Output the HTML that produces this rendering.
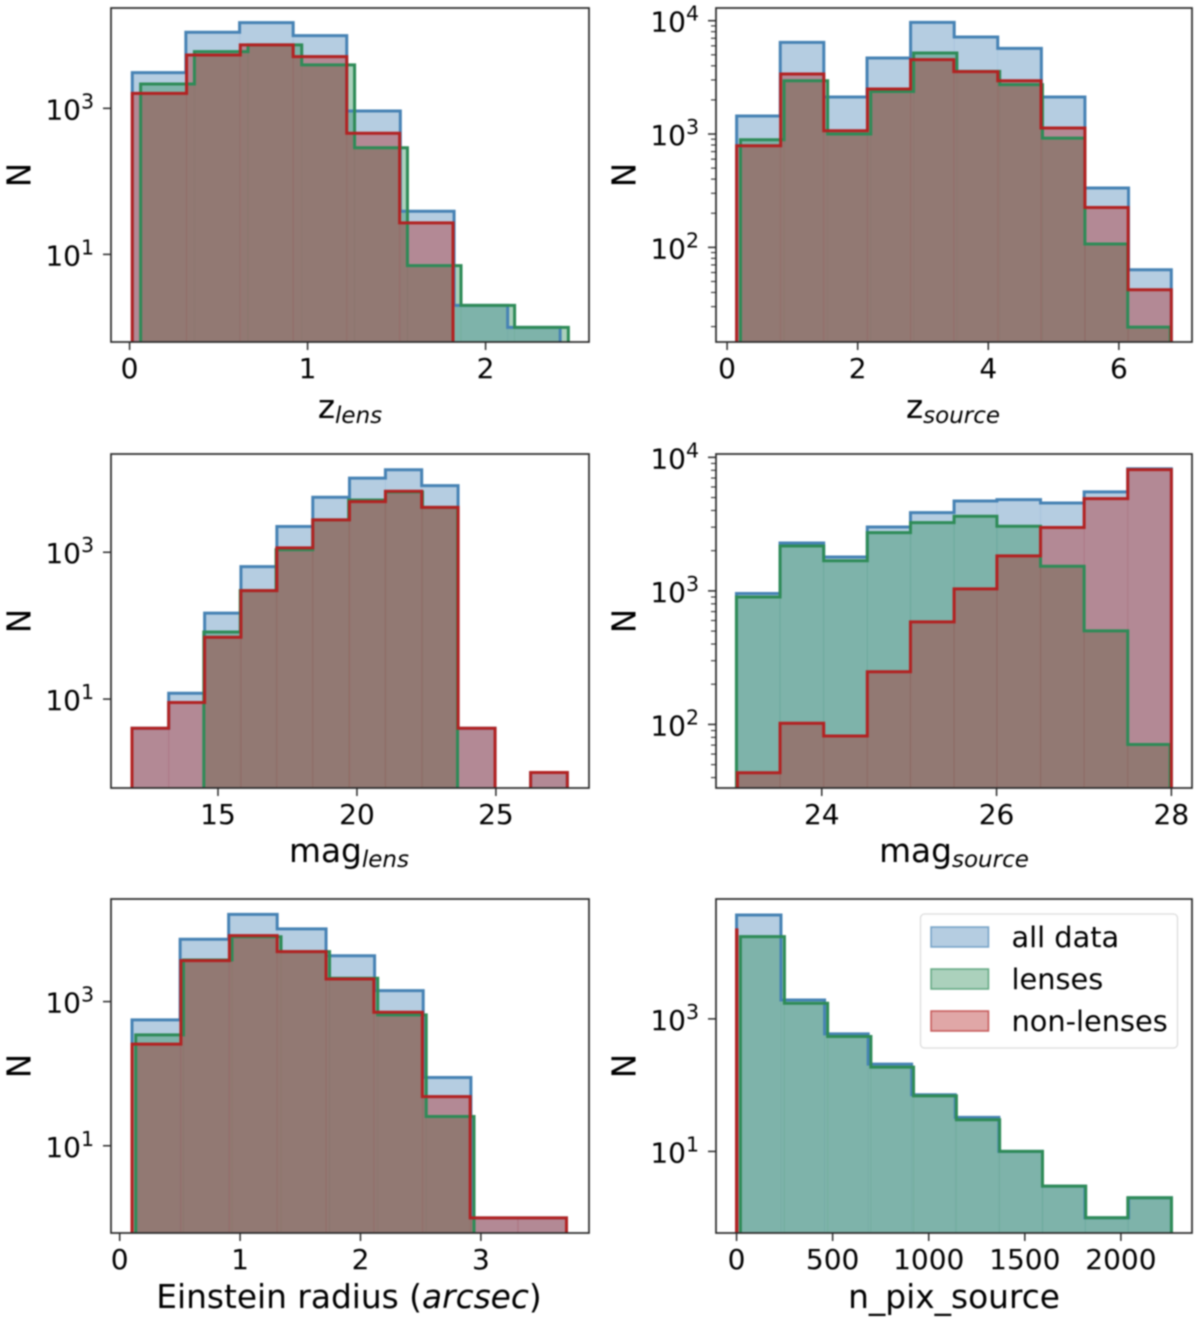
<!DOCTYPE html>
<html lang="en">
<head>
<meta charset="utf-8">
<title>Histograms of lens simulation parameters</title>
<style>
html,body{margin:0;padding:0;background:#fff;}
body{width:1200px;height:1323px;overflow:hidden;}
#figure{display:block;filter:blur(0.7px);}
text{font-family:"DejaVu Sans","Liberation Sans",sans-serif;fill:#000;}
</style>
</head>
<body>
<svg id="figure" xmlns="http://www.w3.org/2000/svg" width="1200" height="1323" viewBox="0 0 1200 1323"></svg>
<script>
// z_lens
const zlensEdgesAll = [0.015,0.316,0.618,0.919,1.22,1.521,1.823,2.124,2.419];
const zlensCountsAll = [3085,11000,14900,9900,920,39,2,1];
const zlensEdgesLenses = [0.062,0.364,0.665,0.967,1.264,1.561,1.862,2.163,2.465];
const zlensCountsLenses = [2155,5970,7400,3930,289,7,2,1];
const zlensEdgesNon = [0.015,0.32,0.622,0.919,1.22,1.517,1.817];
const zlensCountsNon = [1600,5380,7400,5100,455,27];
const zlensXTicks = [0,1,2];
const zlensYExponents = [1,3];

// z_source
const zsourceEdgesAll = [0.146,0.814,1.481,2.143,2.81,3.478,4.145,4.813,5.48,6.148,6.803];
const zsourceCountsAll = [1443,6440,2120,4690,9660,7180,5700,2120,334,63.5];
const zsourceEdgesLenses = [0.205,0.872,1.54,2.2,2.857,3.519,4.175,4.83,5.48,6.136,6.786];
const zsourceCountsLenses = [891,2955,1000,2375,5190,3575,2725,920,107,19.8];
const zsourceEdgesNon = [0.146,0.82,1.481,2.149,2.81,3.472,4.145,4.807,5.48,6.142,6.803];
const zsourceCountsNon = [788,3385,1070,2495,4530,3550,2955,1130,225,42.3];
const zsourceXTicks = [0,2,4,6];
const zsourceYExponents = [2,3,4];

// mag_lens
const maglensEdgesAll = [11.905,13.226,14.519,15.825,17.118,18.411,19.732,21.025,22.33,23.64,24.97,26.25,27.57];
const maglensCountsAll = [4,12,148,638,2240,5620,10200,13300,8070,4,0,1];
const maglensEdgesLenses = [14.49,15.8,17.09,18.41,19.7,21.03,22.36,23.62];
const maglensCountsLenses = [82,300,1080,2756,5150,6620,4090];
const maglensEdgesNon = [11.905,13.226,14.519,15.825,17.118,18.411,19.732,21.025,22.33,23.64,24.97,26.25,27.57];
const maglensCountsNon = [4,9,69.6,300,1145,2756,4890,6760,4090,4,0,1];
const maglensXTicks = [15,20,25];
const maglensYExponents = [1,3];

// mag_source
const magsourceEdgesAll = [23.024,23.523,24.022,24.521,25.015,25.514,26.004,26.503,27.002,27.501,28];
const magsourceCountsAll = [955,2285,1795,3010,3855,4710,4820,4550,5510,8220];
const magsourceEdgesLenses = [23.024,23.523,24.022,24.521,25.015,25.514,26.004,26.503,27.002,27.501,27.985];
const magsourceCountsLenses = [900,2170,1680,2730,3245,3620,3045,1530,502,70.8];
const magsourceEdgesNon = [23.035,23.523,24.022,24.521,25.015,25.514,26.004,26.503,27.002,27.501,28];
const magsourceCountsNon = [43.5,102,82,248,586,1035,1830,2980,4910,8090];
const magsourceXTicks = [24,26,28];
const magsourceYExponents = [2,3,4];

// Einstein radius
const einsteinEdgesAll = [0.102,0.502,0.905,1.308,1.714,2.117,2.521,2.917,3.308,3.711];
const einsteinCountsAll = [557,7310,16200,10200,4330,1420,88.5,1,1];
const einsteinEdgesLenses = [0.133,0.53,0.933,1.34,1.743,2.143,2.546,2.943];
const einsteinCountsLenses = [345,3775,7940,4930,2105,653,25.5];
const einsteinEdgesNon = [0.102,0.508,0.911,1.308,1.714,2.111,2.514,2.911,3.308,3.711];
const einsteinCountsNon = [257,3700,8230,4930,2060,711,48,1,1];
const einsteinXTicks = [0,1,2,3];
const einsteinYExponents = [1,3];

// n_pix_source
const npixEdgesAll = [0,231,458,685,911,1138,1365,1592,1813,2040,2263];
const npixCountsAll = [37000,1930,595,208,71.5,32.6,10,3,1,2];
const npixEdgesLenses = [20,249,474,699,921,1144,1369,1592,1817,2036,2263];
const npixCountsLenses = [17400,1720,542,187,69,30,10,3,1,2];
const npixEdgesNon = [0,2];
const npixCountsNon = [22000];
const npixXTicks = [0,500,1000,1500,2000];
const npixYExponents = [1,3];

// Axis ranges (data units; y is log10 of the count)
const zlensXRange = [-0.1045,2.581];
const zlensYLogRange = [-0.2,4.374];
const zsourceXRange = [-0.17,7.12];
const zsourceYLogRange = [1.165,4.112];
const maglensXRange = [11.15,28.35];
const maglensYLogRange = [-0.211,4.338];
const magsourceXRange = [22.79,28.236];
const magsourceYLogRange = [1.524,4.025];
const einsteinXRange = [-0.0723,3.898];
const einsteinYLogRange = [-0.21,4.423];
const npixXRange = [-107,2370];
const npixYLogRange = [-0.231,4.809];

const legendLabels = ['all data','lenses','non-lenses'];
const minorMultipliers = [2,3,4,5,6,7,8,9];

const SVGNS = 'http://www.w3.org/2000/svg';
const figure = document.getElementById('figure');
const BLUE = '#4682b4', GREEN = '#2e8b57', RED = '#b22222';
const TICK_FONT = 28, LABEL_FONT = 32.8, SUB_FONT = 23, SUP_FONT = 20.5;

function el(tag, parent, attrs) {
  const node = document.createElementNS(SVGNS, tag);
  for (const key in attrs) node.setAttribute(key, attrs[key]);
  parent.appendChild(node);
  return node;
}

function drawFills(group, key, color, edges, counts, x, y, baseY) {
  const seriesGroup = el('g', group, {});
  
  
  counts.forEach(function (count, i) {
    if (count <= 0) return;
    const x0 = x(edges[i]), x1 = x(edges[i + 1]);
    const top = y(count);
    const bar = el('rect', seriesGroup, {
      x: x0, y: top, width: x1 - x0, height: baseY - top,
      fill: color, 'fill-opacity': 0.4, stroke: color, 'stroke-opacity': 0.07, 'stroke-width': 1
    });
    
    
  });
}

function drawOutline(group, key, color, edges, counts, x, y, baseY) {
  let outline = '';
  counts.forEach(function (count, i) {
    const x0 = x(edges[i]), x1 = x(edges[i + 1]);
    const top = count > 0 ? y(count) : baseY;
    outline += (i === 0 ? 'M' + x0 + ' ' + baseY : '') + 'L' + x0 + ' ' + top + 'L' + x1 + ' ' + top;
    if (i === counts.length - 1) outline += 'L' + x1 + ' ' + baseY;
  });
  const line = el('path', group, { d: outline, fill: 'none', stroke: color, 'stroke-width': 3, 'stroke-linejoin': 'miter' });
  
  
}

function drawPanel(p) {
  const group = el('g', figure, {});
  
  
  const left = p.left, right = p.right, top = p.top, bottom = p.bottom;
  const x = function (v) { return left + (v - p.xRange[0]) / (p.xRange[1] - p.xRange[0]) * (right - left); };
  const yLog = function (l) { return bottom - (l - p.yRange[0]) / (p.yRange[1] - p.yRange[0]) * (bottom - top); };
  const y = function (c) { return yLog(Math.log10(c)); };

  const clip = el('clipPath', group, { id: 'clip-' + p.id });
  el('rect', clip, { x: left, y: top, width: right - left, height: bottom - top });
  const plot = el('g', group, { 'clip-path': 'url(#clip-' + p.id + ')' });
  
  
  const base = bottom + 2;
  drawFills(plot, 'all-data', BLUE, p.all[0], p.all[1], x, y, base);
  drawFills(plot, 'lenses', GREEN, p.lenses[0], p.lenses[1], x, y, base);
  drawFills(plot, 'non-lenses', RED, p.non[0], p.non[1], x, y, base);
  drawOutline(plot, 'all-data', BLUE, p.all[0], p.all[1], x, y, base);
  if (p.greenOnTop) {
    drawOutline(plot, 'non-lenses', RED, p.non[0], p.non[1], x, y, base);
    drawOutline(plot, 'lenses', GREEN, p.lenses[0], p.lenses[1], x, y, base);
  } else {
    drawOutline(plot, 'lenses', GREEN, p.lenses[0], p.lenses[1], x, y, base);
    drawOutline(plot, 'non-lenses', RED, p.non[0], p.non[1], x, y, base);
  }

  const frame = el('rect', group, { x: left, y: top, width: right - left, height: bottom - top, fill: 'none', stroke: '#2a2a2a', 'stroke-width': 1.7 });
  
  

  p.xTicks.forEach(function (v) {
    const tick = el('line', group, { x1: x(v), x2: x(v), y1: bottom, y2: bottom + 8, stroke: '#2a2a2a', 'stroke-width': 1.5 });
    
    
    const label = el('text', group, { x: x(v), y: bottom + 36, 'text-anchor': 'middle', 'font-size': TICK_FONT });
    
    
    label.textContent = String(v);
  });

  p.yExponents.forEach(function (e) {
    const py = yLog(e);
    const tick = el('line', group, { x1: left - 8, x2: left, y1: py, y2: py, stroke: '#2a2a2a', 'stroke-width': 1.5 });
    
    
    const label = el('text', group, { x: left - 17, y: py + 11, 'text-anchor': 'end', 'font-size': TICK_FONT });
    
    
    label.appendChild(document.createTextNode('10'));
    const sup = el('tspan', label, { dy: -11, 'font-size': SUP_FONT });
    sup.textContent = String(e);
  });

  if (p.minor) {
    for (let d = Math.floor(p.yRange[0]); d < p.yRange[1]; d++) {
      minorMultipliers.forEach(function (m) {
        const l = d + Math.log10(m);
        if (l < p.yRange[0] || l > p.yRange[1]) return;
        const minorTick = el('line', group, { x1: left - 5, x2: left, y1: yLog(l), y2: yLog(l), stroke: '#2a2a2a', 'stroke-width': 1.1 });
        
        
      });
    }
  }

  const yTitle = el('text', group, { transform: 'translate(' + (left - 80.5) + ' ' + (top + 167) + ') rotate(-90)', 'text-anchor': 'middle', 'font-size': LABEL_FONT });
  
  
  yTitle.textContent = 'N';

  const xTitle = el('text', group, { x: p.titleX, y: p.titleY, 'text-anchor': 'middle', 'font-size': LABEL_FONT });
  
  
  p.title.forEach(function (part) {
    const span = el('tspan', xTitle, {});
    span.textContent = part.t;
    if (part.sub) {
      span.setAttribute('font-size', SUB_FONT);
      span.setAttribute('font-style', 'italic');
      span.setAttribute('dy', 5);
    }
    if (part.it) span.setAttribute('font-style', 'italic');
  });
}

const panels = [
  { id:'z-lens', left:111, right:589, top:8, bottom:342, xRange:zlensXRange, yRange:zlensYLogRange,
    all:[zlensEdgesAll,zlensCountsAll], lenses:[zlensEdgesLenses,zlensCountsLenses], non:[zlensEdgesNon,zlensCountsNon],
    xTicks:zlensXTicks, yExponents:zlensYExponents, minor:false, titleX:350, titleY:418, title:[{t:'z'},{t:'lens',sub:true}] },
  { id:'z-source', left:716, right:1192, top:8, bottom:342, xRange:zsourceXRange, yRange:zsourceYLogRange,
    all:[zsourceEdgesAll,zsourceCountsAll], lenses:[zsourceEdgesLenses,zsourceCountsLenses], non:[zsourceEdgesNon,zsourceCountsNon],
    xTicks:zsourceXTicks, yExponents:zsourceYExponents, minor:true, titleX:953, titleY:418, title:[{t:'z'},{t:'source',sub:true}] },
  { id:'mag-lens', left:111, right:589, top:454, bottom:788, xRange:maglensXRange, yRange:maglensYLogRange,
    all:[maglensEdgesAll,maglensCountsAll], lenses:[maglensEdgesLenses,maglensCountsLenses], non:[maglensEdgesNon,maglensCountsNon],
    xTicks:maglensXTicks, yExponents:maglensYExponents, minor:false, titleX:349, titleY:862, title:[{t:'mag'},{t:'lens',sub:true}] },
  { id:'mag-source', left:716, right:1192, top:454, bottom:788, xRange:magsourceXRange, yRange:magsourceYLogRange,
    all:[magsourceEdgesAll,magsourceCountsAll], lenses:[magsourceEdgesLenses,magsourceCountsLenses], non:[magsourceEdgesNon,magsourceCountsNon],
    xTicks:magsourceXTicks, yExponents:magsourceYExponents, minor:true, titleX:954, titleY:862, title:[{t:'mag'},{t:'source',sub:true}] },
  { id:'einstein-radius', left:111, right:589, top:899, bottom:1233, xRange:einsteinXRange, yRange:einsteinYLogRange,
    all:[einsteinEdgesAll,einsteinCountsAll], lenses:[einsteinEdgesLenses,einsteinCountsLenses], non:[einsteinEdgesNon,einsteinCountsNon],
    xTicks:einsteinXTicks, yExponents:einsteinYExponents, minor:false, titleX:349, titleY:1308, title:[{t:'Einstein radius ('},{t:'arcsec',it:true},{t:')'}] },
  { id:'n-pix-source', left:716, right:1192, top:899, bottom:1233, xRange:npixXRange, yRange:npixYLogRange,
    all:[npixEdgesAll,npixCountsAll], lenses:[npixEdgesLenses,npixCountsLenses], non:[npixEdgesNon,npixCountsNon],
    xTicks:npixXTicks, yExponents:npixYExponents, minor:false, greenOnTop:true, titleX:954, titleY:1308, title:[{t:'n_pix_source'}] }
];
panels.forEach(drawPanel);

// Legend (bottom-right panel)
const legend = el('g', figure, {});


const legendBox = el('rect', legend, { x: 920.5, y: 914, width: 257, height: 134, rx: 4, fill: '#fff', 'fill-opacity': 0.8, stroke: '#dcdcdc', 'stroke-width': 1.3 });


[BLUE, GREEN, RED].forEach(function (color, i) {
  const rowY = 927 + i * 42;
  const swatch = el('rect', legend, { x: 931, y: rowY, width: 57.5, height: 20, fill: color, 'fill-opacity': 0.4, stroke: color, 'stroke-opacity': 0.65, 'stroke-width': 1.6 });
  
  
  const label = el('text', legend, { x: 1011.5, y: rowY + 20, 'font-size': 28.8 });
  
  
  label.textContent = legendLabels[i];
});
</script>
</body>
</html>
